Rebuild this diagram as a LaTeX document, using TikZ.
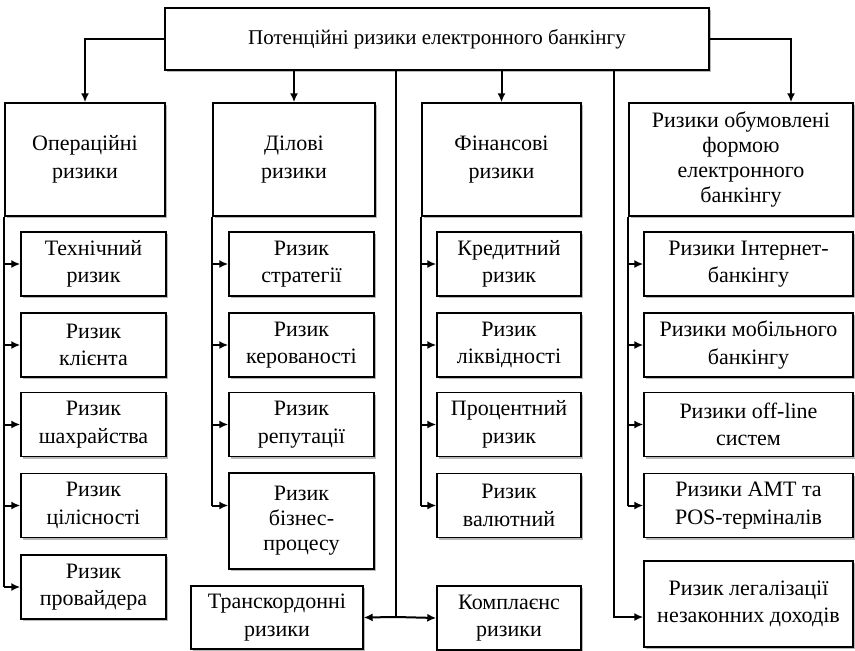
\documentclass[tikz,border=0pt]{standalone}
\usepackage{fontspec}
\setmainfont{Liberation Serif}
\usetikzlibrary{arrows.meta}
\begin{document}
\begin{tikzpicture}[x=1pt,y=-1pt,
  box/.style={draw=black,line width=1.4pt,fill=white,inner sep=0pt,align=center,
    font=\fontsize{22}{27.5}\selectfont,
    preaction={fill=gray!55,transform canvas={xshift=2pt,yshift=-2pt}}},
  tight/.style={font=\fontsize{22}{25}\selectfont},
  ln/.style={line width=2pt,black},
  arr/.style={ln,-{Latex[length=9pt,width=8pt]}}]
\useasboundingbox (0,0) rectangle (855,651);
% top
\node[box,minimum width=544pt,minimum height=62pt,font=\fontsize{21}{25}\selectfont] (top) at (437,39) {Потенційні ризики електронного банкінгу};
% categories
\node[box,minimum width=160pt,minimum height=113pt] (op) at (85,159.5) {Операційні\\ризики};
\node[box,minimum width=162pt,minimum height=113pt] (dil) at (294,159.5) {Ділові\\ризики};
\node[box,minimum width=159pt,minimum height=113pt] (fin) at (501.5,159.5) {Фінансові\\ризики};
\node[box,tight,minimum width=224pt,minimum height=113pt] (frm) at (741,159.5) {Ризики обумовлені\\формою\\електронного\\банкінгу};
% column 1
\node[box,minimum width=145pt,minimum height=64pt] (a1) at (93.5,264) {Технічний\\ризик};
\node[box,minimum width=145pt,minimum height=64pt] (a2) at (93.5,345) {Ризик\\клієнта};
\node[box,minimum width=145pt,minimum height=64pt] (a3) at (93.5,424.5) {Ризик\\шахрайства};
\node[box,minimum width=145pt,minimum height=64pt] (a4) at (93.5,505.5) {Ризик\\цілісності};
\node[box,minimum width=145pt,minimum height=64pt] (a5) at (93.5,587) {Ризик\\провайдера};
% column 2
\node[box,minimum width=145pt,minimum height=64pt] (b1) at (301.5,264) {Ризик\\стратегії};
\node[box,minimum width=145pt,minimum height=64pt] (b2) at (301.5,345) {Ризик\\керованості};
\node[box,minimum width=145pt,minimum height=64pt] (b3) at (301.5,424.5) {Ризик\\репутації};
\node[box,tight,minimum width=145pt,minimum height=96pt] (b4) at (301.5,521) {Ризик\\бізнес-\\процесу};
% column 3
\node[box,minimum width=144pt,minimum height=64pt] (c1) at (509,264) {Кредитний\\ризик};
\node[box,minimum width=144pt,minimum height=64pt] (c2) at (509,345) {Ризик\\ліквідності};
\node[box,minimum width=144pt,minimum height=64pt] (c3) at (509,424.5) {Процентний\\ризик};
\node[box,minimum width=144pt,minimum height=64pt] (c4) at (509,505.5) {Ризик\\валютний};
% column 4
\node[box,minimum width=209pt,minimum height=64pt] (d1) at (748.5,264) {Ризики Інтернет-\\банкінгу};
\node[box,minimum width=209pt,minimum height=64pt] (d2) at (748.5,345) {Ризики мобільного\\банкінгу};
\node[box,minimum width=209pt,minimum height=64pt] (d3) at (748.5,424.5) {Ризики off-line\\систем};
\node[box,minimum width=209pt,minimum height=64pt] (d4) at (748.5,505.5) {Ризики АМТ та\\POS-терміналів};
\node[box,minimum width=209pt,minimum height=86pt] (d5) at (748.5,604) {Ризик легалізації\\незаконних доходів};
% bottom
\node[box,minimum width=172pt,minimum height=63pt] (tr) at (277,617.5) {Транскордонні\\ризики};
\node[box,minimum width=144pt,minimum height=64pt] (ko) at (509,618) {Комплаєнс\\ризики};
% connectors from top
\draw[arr] (top.west) -| (op.north);
\draw[arr] (dil.north |- top.south) -- (dil.north);
\draw[arr] (fin.north |- top.south) -- (fin.north);
\draw[arr] (top.east) -| ([xshift=50pt]frm.north);
\coordinate (j) at (396,617);
\draw[ln] (j |- top.south) -- (j);
\draw[arr] (j) -- (tr.east);
\draw[arr] (j) -- (ko.west);
\coordinate (r) at (614,0);
\draw[arr] (r |- top.south) |- ([yshift=-13pt]d5.west);
% column buses
\draw[ln] (op.south west) -- (op.south west |- a5.west);
\foreach \n in {a1,a2,a3,a4,a5} \draw[arr] (op.south west |- \n.west) -- (\n.west);
\draw[ln] (dil.south west) -- (dil.south west |- c4.west);
\foreach \n in {b1,b2,b3} \draw[arr] (dil.south west |- \n.west) -- (\n.west);
\draw[arr] (dil.south west |- c4.west) -- (b4.west |- c4.west);
\draw[ln] (fin.south west) -- (fin.south west |- c4.west);
\foreach \n in {c1,c2,c3,c4} \draw[arr] (fin.south west |- \n.west) -- (\n.west);
\draw[ln] (frm.south west) -- (frm.south west |- d4.west);
\foreach \n in {d1,d2,d3,d4} \draw[arr] (frm.south west |- \n.west) -- (\n.west);
\end{tikzpicture}
\end{document}
